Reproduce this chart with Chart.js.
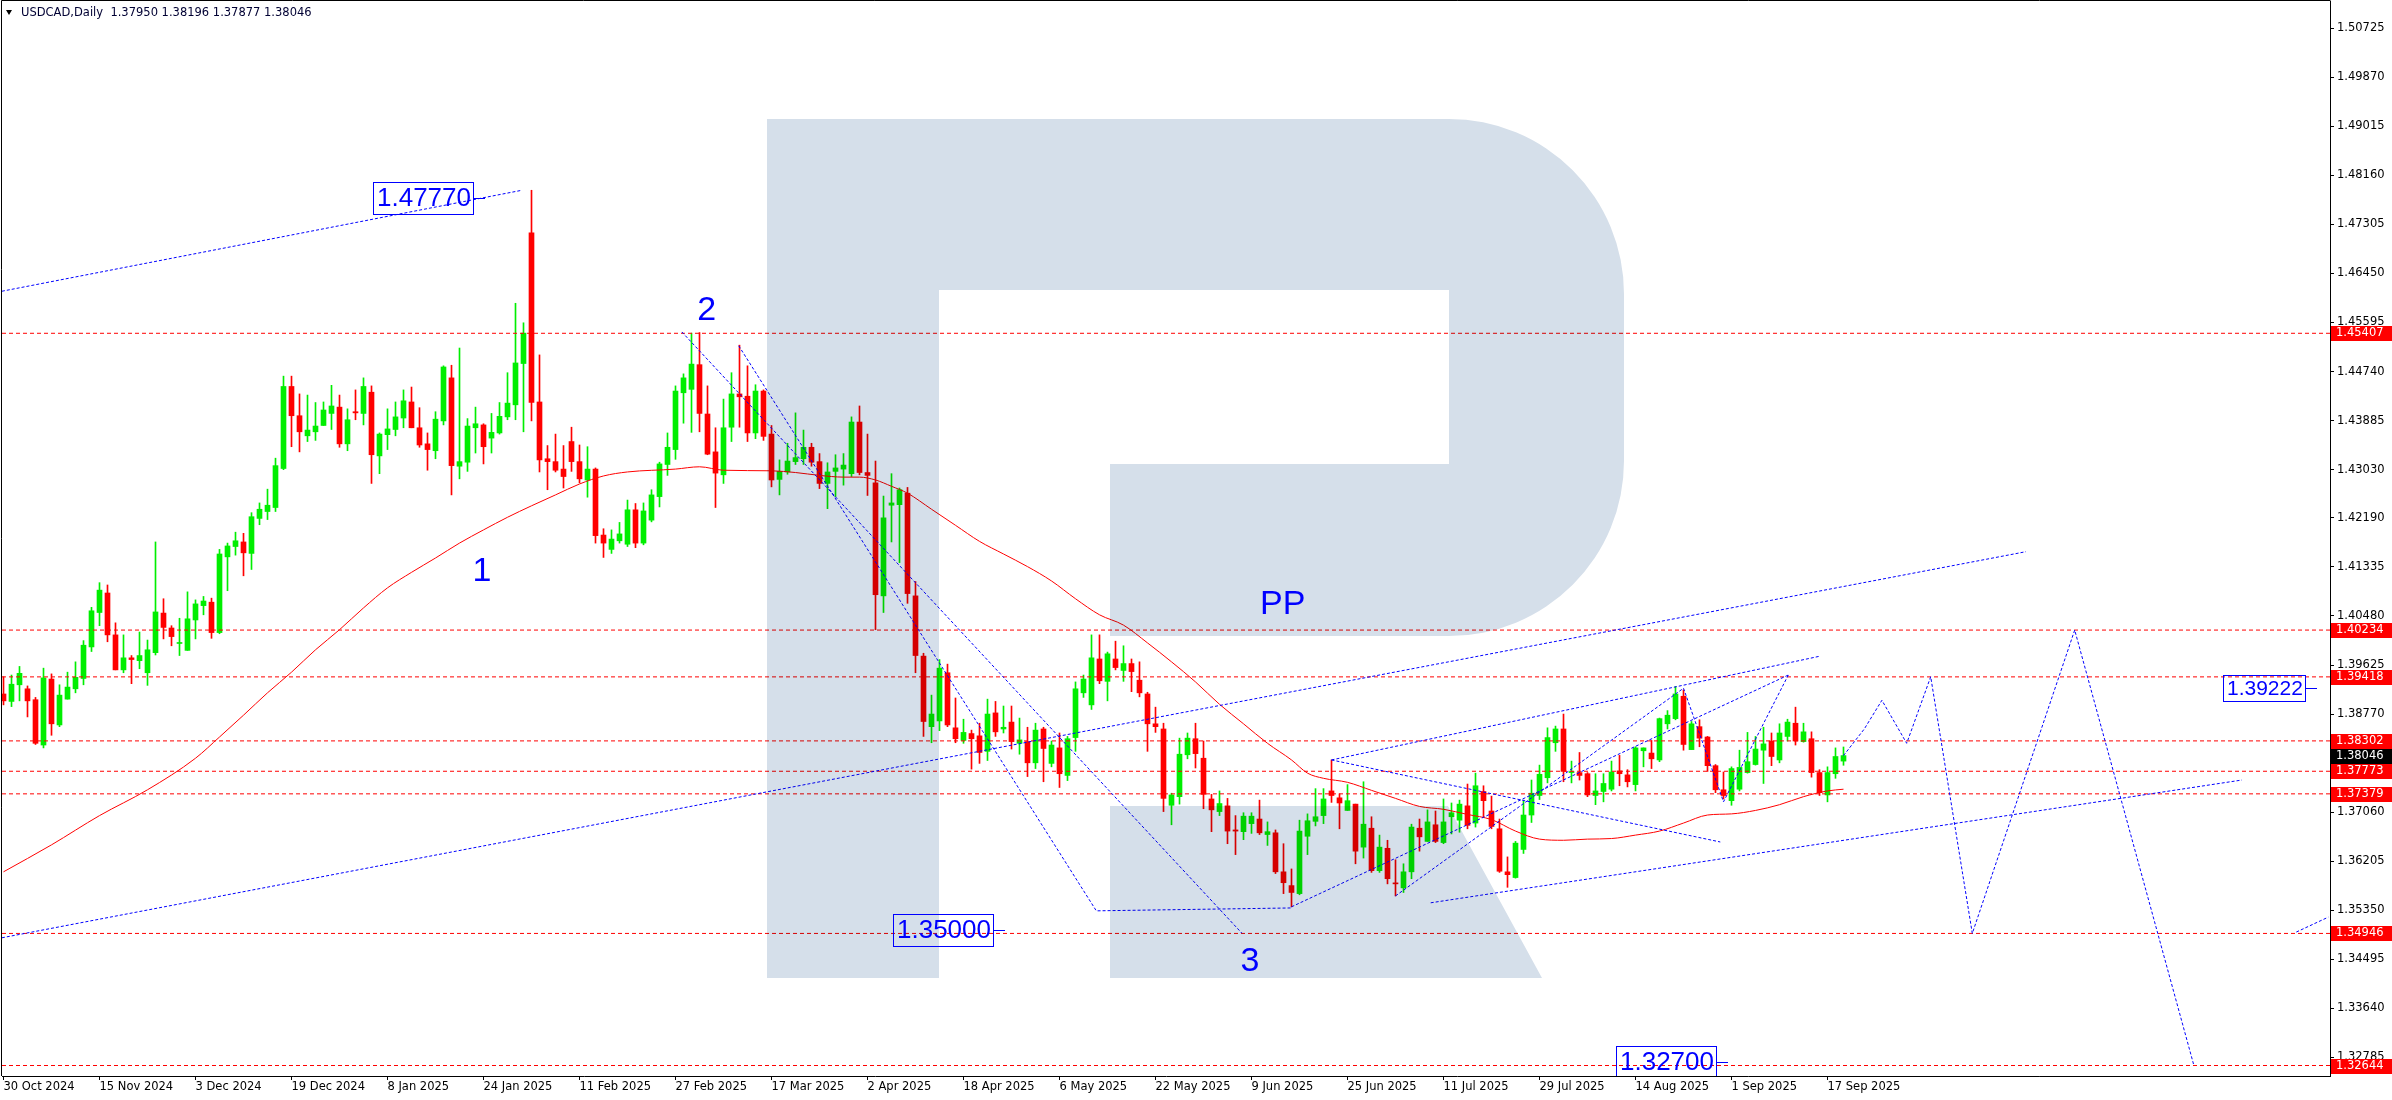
<!DOCTYPE html>
<html>
<head>
<meta charset="utf-8">
<title>USDCAD Daily</title>
<script src="https://cdn.jsdelivr.net/npm/chart.js@4.4.1/dist/chart.umd.min.js"></script>
<style>
    html, body { margin: 0; padding: 0; background: #ffffff; }
    #contenedor { width: 2392px; height: 1100px; position: relative; }
</style>
</head>
<body>
<div id="contenedor"><canvas id="grafico"></canvas></div>
<script>
// ==============================
// DATOS
// ==============================

const fechasEje = ["30 Oct 2024", "15 Nov 2024", "3 Dec 2024", "19 Dec 2024", "8 Jan 2025", "24 Jan 2025",
    "11 Feb 2025", "27 Feb 2025", "17 Mar 2025", "2 Apr 2025", "18 Apr 2025", "6 May 2025", "22 May 2025",
    "9 Jun 2025", "25 Jun 2025", "11 Jul 2025", "29 Jul 2025", "14 Aug 2025", "1 Sep 2025", "17 Sep 2025"];

const apertura = [
    1.3912, 1.3899, 1.3928, 1.3921, 1.3902, 1.3823, 1.3938, 1.3858, 1.3903, 1.3921,
    1.3939, 1.3994, 1.4054, 1.4088, 1.4015, 1.3954, 1.3975, 1.3970, 1.3949, 1.3984,
    1.4053, 1.4027, 1.4000, 1.3988, 1.4041, 1.4066, 1.4072, 1.4019, 1.4151, 1.4169,
    1.4177, 1.4157, 1.4218, 1.4230, 1.4237, 1.4305, 1.4448, 1.4397, 1.4362, 1.4369,
    1.4380, 1.4401, 1.4412, 1.4348, 1.4404, 1.4401, 1.4438, 1.4327, 1.4364, 1.4373,
    1.4393, 1.4421, 1.4376, 1.4348, 1.4336, 1.4388, 1.4463, 1.4309, 1.4316, 1.4376,
    1.4381, 1.4358, 1.4367, 1.4395, 1.4416, 1.4488, 1.4716, 1.4421, 1.4322, 1.4317,
    1.4304, 1.4352, 1.4317, 1.4285, 1.4304, 1.4189, 1.4164, 1.4179, 1.4173, 1.4233,
    1.4175, 1.4215, 1.4256, 1.4312, 1.4338, 1.4437, 1.4443, 1.4486, 1.4400, 1.4334,
    1.4294, 1.4377, 1.4435, 1.4431, 1.4367, 1.4440, 1.4365, 1.4286, 1.4299, 1.4317,
    1.4322, 1.4342, 1.4317, 1.4279, 1.4300, 1.4304, 1.4296, 1.4386, 1.4298, 1.4280,
    1.4083, 1.4241, 1.4242, 1.4262, 1.4083, 1.3978, 1.3855, 1.3865, 1.3949, 1.3853,
    1.3831, 1.3843, 1.3839, 1.3812, 1.3879, 1.3851, 1.3863, 1.3826, 1.3829, 1.3792,
    1.3851, 1.3791, 1.3818, 1.3770, 1.3836, 1.3914, 1.3893, 1.3973, 1.3934, 1.3973,
    1.3953, 1.3965, 1.3936, 1.3912, 1.3860, 1.3851, 1.3718, 1.3733, 1.3806, 1.3834,
    1.3800, 1.3729, 1.3707, 1.3717, 1.3675, 1.3672, 1.3686, 1.3694, 1.3667, 1.3670,
    1.3602, 1.3578, 1.3564, 1.3664, 1.3690, 1.3700, 1.3743, 1.3731, 1.3709, 1.3720,
    1.3645, 1.3678, 1.3604, 1.3643, 1.3582, 1.3574, 1.3602, 1.3678, 1.3655, 1.3684,
    1.3653, 1.3698, 1.3692, 1.3717, 1.3687, 1.3742, 1.3708, 1.3677, 1.3602, 1.3592,
    1.3641, 1.3701, 1.3735, 1.3766, 1.3827, 1.3851, 1.3775, 1.3775, 1.3773, 1.3735,
    1.3742, 1.3746, 1.3778, 1.3771, 1.3754, 1.3813, 1.3809, 1.3797, 1.3860, 1.3869,
    1.3908, 1.3815, 1.3855, 1.3837, 1.3787, 1.3745, 1.3726, 1.3746, 1.3775, 1.3789,
    1.3814, 1.3830, 1.3797, 1.3838, 1.3861, 1.3829, 1.3834, 1.3775, 1.3736, 1.3773,
    1.37950
];

const maximo = [
    1.3942, 1.3945, 1.3960, 1.3926, 1.3906, 1.3957, 1.3947, 1.3928, 1.3950, 1.3968,
    1.4005, 1.4063, 1.4106, 1.4102, 1.4036, 1.4015, 1.3979, 1.4020, 1.4006, 1.4177,
    1.4078, 1.4031, 1.4044, 1.4090, 1.4076, 1.4082, 1.4079, 1.4164, 1.4175, 1.4194,
    1.4192, 1.4228, 1.4245, 1.4269, 1.4323, 1.4466, 1.4466, 1.4435, 1.4433, 1.4420,
    1.4421, 1.4450, 1.4433, 1.4409, 1.4442, 1.4463, 1.4449, 1.4367, 1.4409, 1.4421,
    1.4442, 1.4447, 1.4411, 1.4367, 1.4404, 1.4484, 1.4485, 1.4515, 1.4392, 1.4412,
    1.4383, 1.4401, 1.4420, 1.4472, 1.4593, 1.4559, 1.4790, 1.4503, 1.4345, 1.4365,
    1.4345, 1.4377, 1.4346, 1.4343, 1.4306, 1.4200, 1.4198, 1.4211, 1.4250, 1.4244,
    1.4245, 1.4268, 1.4316, 1.4367, 1.4449, 1.4470, 1.4541, 1.4542, 1.4449, 1.4376,
    1.4426, 1.4472, 1.4520, 1.4484, 1.4451, 1.4442, 1.4380, 1.4320, 1.4349, 1.4402,
    1.4372, 1.4349, 1.4331, 1.4315, 1.4329, 1.4331, 1.4395, 1.4414, 1.4365, 1.4318,
    1.4257, 1.4296, 1.4271, 1.4272, 1.4108, 1.3983, 1.3910, 1.3972, 1.3964, 1.3905,
    1.3868, 1.3849, 1.3861, 1.3903, 1.3899, 1.3891, 1.3891, 1.3870, 1.3854, 1.3861,
    1.3854, 1.3830, 1.3844, 1.3838, 1.3933, 1.3945, 1.4015, 1.4015, 1.3985, 1.4004,
    1.3996, 1.3973, 1.3968, 1.3915, 1.3889, 1.3861, 1.3739, 1.3835, 1.3844, 1.3861,
    1.3830, 1.3737, 1.3743, 1.3730, 1.3700, 1.3705, 1.3705, 1.3727, 1.3689, 1.3675,
    1.3651, 1.3607, 1.3692, 1.3703, 1.3747, 1.3747, 1.3797, 1.3738, 1.3754, 1.3720,
    1.3759, 1.3698, 1.3666, 1.3657, 1.3623, 1.3616, 1.3685, 1.3694, 1.3710, 1.3708,
    1.3729, 1.3722, 1.3727, 1.3755, 1.3774, 1.3752, 1.3734, 1.3694, 1.3628, 1.3655,
    1.3727, 1.3762, 1.3788, 1.3853, 1.3856, 1.3877, 1.3795, 1.3810, 1.3775, 1.3773,
    1.3773, 1.3795, 1.3805, 1.3780, 1.3820, 1.3818, 1.3831, 1.3870, 1.3883, 1.3925,
    1.3919, 1.3864, 1.3867, 1.3838, 1.3789, 1.3776, 1.3785, 1.3814, 1.3845, 1.3838,
    1.3854, 1.3844, 1.3860, 1.3868, 1.3889, 1.3861, 1.3846, 1.3780, 1.3785, 1.3818,
    1.38196
];

const minimo = [
    1.3893, 1.3890, 1.3900, 1.3872, 1.3824, 1.3818, 1.3840, 1.3855, 1.3903, 1.3914,
    1.3928, 1.3986, 1.4031, 1.4003, 1.3954, 1.3949, 1.3930, 1.3956, 1.3927, 1.3980,
    1.4008, 1.3996, 1.3979, 1.3988, 1.4008, 1.4050, 1.4009, 1.4017, 1.4092, 1.4154,
    1.4118, 1.4129, 1.4207, 1.4216, 1.4230, 1.4303, 1.4343, 1.4334, 1.4352, 1.4354,
    1.4380, 1.4373, 1.4342, 1.4336, 1.4390, 1.4381, 1.4279, 1.4296, 1.4338, 1.4362,
    1.4376, 1.4376, 1.4342, 1.4302, 1.4322, 1.4381, 1.4259, 1.4287, 1.4300, 1.4332,
    1.4313, 1.4332, 1.4365, 1.4390, 1.4390, 1.4369, 1.4388, 1.4299, 1.4268, 1.4299,
    1.4271, 1.4300, 1.4280, 1.4255, 1.4175, 1.4150, 1.4157, 1.4175, 1.4169, 1.4167,
    1.4172, 1.4212, 1.4238, 1.4293, 1.4321, 1.4384, 1.4368, 1.4369, 1.4329, 1.4237,
    1.4279, 1.4352, 1.4377, 1.4352, 1.4357, 1.4354, 1.4273, 1.4259, 1.4295, 1.4312,
    1.4312, 1.4309, 1.4270, 1.4235, 1.4256, 1.4276, 1.4291, 1.4294, 1.4258, 1.4024,
    1.4054, 1.4177, 1.4141, 1.4070, 1.3949, 1.3838, 1.3827, 1.3848, 1.3855, 1.3827,
    1.3826, 1.3781, 1.3791, 1.3796, 1.3838, 1.3844, 1.3816, 1.3807, 1.3768, 1.3782,
    1.3759, 1.3785, 1.3749, 1.3761, 1.3812, 1.3906, 1.3885, 1.3930, 1.3900, 1.3954,
    1.3934, 1.3916, 1.3907, 1.3812, 1.3845, 1.3707, 1.3684, 1.3720, 1.3799, 1.3783,
    1.3712, 1.3672, 1.3700, 1.3651, 1.3632, 1.3658, 1.3669, 1.3667, 1.3648, 1.3599,
    1.3564, 1.3541, 1.3562, 1.3632, 1.3682, 1.3686, 1.3723, 1.3677, 1.3709, 1.3616,
    1.3626, 1.3601, 1.3601, 1.3581, 1.3560, 1.3566, 1.3590, 1.3638, 1.3655, 1.3653,
    1.3651, 1.3668, 1.3671, 1.3677, 1.3680, 1.3697, 1.3677, 1.3601, 1.3575, 1.3591,
    1.3634, 1.3688, 1.3728, 1.3757, 1.3812, 1.3759, 1.3757, 1.3762, 1.3733, 1.3719,
    1.3724, 1.3743, 1.3752, 1.3750, 1.3743, 1.3785, 1.3782, 1.3794, 1.3851, 1.3867,
    1.3814, 1.3815, 1.3820, 1.3777, 1.3740, 1.3729, 1.3718, 1.3743, 1.3774, 1.3788,
    1.3756, 1.3787, 1.3792, 1.3830, 1.3823, 1.3828, 1.3767, 1.3735, 1.3724, 1.3765,
    1.37877
];

const cierre = [
    1.3900, 1.3929, 1.3948, 1.3900, 1.3826, 1.3940, 1.3860, 1.3910, 1.3924, 1.3941,
    1.3997, 1.4057, 1.4093, 1.4015, 1.3954, 1.3975, 1.3972, 1.3979, 1.3989, 1.4055,
    1.4028, 1.4012, 1.4001, 1.4043, 1.4069, 1.4074, 1.4019, 1.4156, 1.4170, 1.4179,
    1.4158, 1.4221, 1.4234, 1.4241, 1.4310, 1.4448, 1.4397, 1.4369, 1.4372, 1.4379,
    1.4407, 1.4414, 1.4348, 1.4390, 1.4402, 1.4448, 1.4329, 1.4365, 1.4374, 1.4395,
    1.4423, 1.4376, 1.4346, 1.4338, 1.4391, 1.4482, 1.4310, 1.4317, 1.4379, 1.4383,
    1.4343, 1.4368, 1.4396, 1.4419, 1.4489, 1.4541, 1.4420, 1.4320, 1.4317, 1.4302,
    1.4291, 1.4317, 1.4287, 1.4304, 1.4188, 1.4175, 1.4182, 1.4191, 1.4233, 1.4175,
    1.4231, 1.4259, 1.4313, 1.4342, 1.4440, 1.4463, 1.4487, 1.4401, 1.4330, 1.4297,
    1.4376, 1.4435, 1.4430, 1.4367, 1.4440, 1.4361, 1.4285, 1.4300, 1.4318, 1.4324,
    1.4342, 1.4316, 1.4279, 1.4299, 1.4306, 1.4311, 1.4386, 1.4298, 1.4293, 1.4085,
    1.4219, 1.4245, 1.4268, 1.4087, 1.3979, 1.3864, 1.3877, 1.3957, 1.3858, 1.3834,
    1.3845, 1.3834, 1.3810, 1.3877, 1.3846, 1.3854, 1.3829, 1.3832, 1.3792, 1.3849,
    1.3817, 1.3823, 1.3773, 1.3834, 1.3921, 1.3938, 1.3975, 1.3935, 1.3982, 1.3958,
    1.3965, 1.3951, 1.3914, 1.3860, 1.3855, 1.3730, 1.3736, 1.3807, 1.3835, 1.3808,
    1.3737, 1.3710, 1.3721, 1.3673, 1.3673, 1.3699, 1.3699, 1.3670, 1.3672, 1.3602,
    1.3583, 1.3566, 1.3673, 1.3691, 1.3698, 1.3729, 1.3735, 1.3722, 1.3726, 1.3638,
    1.3685, 1.3604, 1.3645, 1.3590, 1.3581, 1.3602, 1.3680, 1.3663, 1.3689, 1.3655,
    1.3689, 1.3705, 1.3720, 1.3683, 1.3752, 1.3726, 1.3681, 1.3603, 1.3597, 1.3652,
    1.3701, 1.3739, 1.3772, 1.3836, 1.3851, 1.3777, 1.3776, 1.3770, 1.3736, 1.3743,
    1.3756, 1.3776, 1.3773, 1.3759, 1.3818, 1.3818, 1.3799, 1.3869, 1.3875, 1.3912,
    1.3824, 1.3860, 1.3835, 1.3787, 1.3745, 1.3735, 1.3782, 1.3784, 1.3794, 1.3816,
    1.3825, 1.3803, 1.3844, 1.3863, 1.3830, 1.3846, 1.3775, 1.3740, 1.3775, 1.3803,
    1.38046
];

// Media móvil: barra y valor leídos cada pocas velas
const mediaBarras = [0, 6, 12, 18, 24, 27, 30, 33, 36, 39, 42, 45, 48, 51, 54, 57, 60, 63, 66, 69,
    72, 75, 78, 84, 87, 90, 96, 99, 102, 105, 107, 109, 111, 113, 116, 119, 122, 125, 128, 131,
    134, 137, 140, 143, 146, 149, 152, 155, 158, 161, 163, 165, 168, 171, 174, 177, 180, 183, 186, 189,
    192, 195, 198, 201, 204, 207, 210, 213, 216, 219, 222, 225, 228, 230];
const mediaValores = [1.3602, 1.3649, 1.3700, 1.3745, 1.3800, 1.3837, 1.3875, 1.3914, 1.3950, 1.3989,
    1.4024, 1.4062, 1.4097, 1.4124, 1.4149, 1.4175, 1.4198, 1.4220, 1.4240, 1.4259,
    1.4278, 1.4292, 1.4299, 1.4304, 1.4308, 1.4302, 1.4301, 1.4298, 1.4293, 1.4290,
    1.4290, 1.4285, 1.4274, 1.4262, 1.4234, 1.4206, 1.4178, 1.4156, 1.4134, 1.4109,
    1.4078, 1.4050, 1.4032, 1.4001, 1.3968, 1.3933, 1.3894, 1.3860, 1.3826, 1.3797,
    1.3774, 1.3765, 1.3758, 1.3744, 1.3730, 1.3716, 1.3711, 1.3702, 1.3693, 1.3673,
    1.3659, 1.3657, 1.3659, 1.3660, 1.3666, 1.3673, 1.3687, 1.3701, 1.3703, 1.3709,
    1.3719, 1.3733, 1.3743, 1.3746];

const nivelesPrecio = [1.45407, 1.40234, 1.39418, 1.38302, 1.37773, 1.37379, 1.34946, 1.32644];
const precioActual = 1.38046;

const marcasEjeY = [1.50725, 1.49870, 1.49015, 1.48160, 1.47305, 1.46450, 1.45595, 1.44740, 1.43885,
    1.43030, 1.42190, 1.41335, 1.40480, 1.39625, 1.38770, 1.37915, 1.37060, 1.36205, 1.35350,
    1.34495, 1.33640, 1.32785];

// Líneas dibujadas: [barra, precio]
const lineaSuperior = [[-0.2, 1.4614], [64.8, 1.4790]];
const lineaInferior = [[-0.2, 1.3487], [252.8, 1.4160]];
const lineaOnda2a3 = [[84.8, 1.4543], [154.8, 1.3495]];
const lineaCaida = [[91.9, 1.4519], [136.6, 1.3534], [160.9, 1.3539]];
const canalSuperior = [[166, 1.3797], [227.1, 1.3978]];
const canalMedio = [[166, 1.3797], [214.6, 1.3654]];
const canalInferior = [[178.4, 1.3548], [279.8, 1.3762]];
const ondaJunio = [[161, 1.3541], [223.1, 1.3945]];
const ondaJulio = [[174, 1.3560], [210, 1.3922]];
const ondaAgosto = [[210, 1.3922], [215, 1.3724], [223.1, 1.3945]];
const pronostico = [[230, 1.38046], [232.6, 1.3851], [234.8, 1.3901], [237.9, 1.3826], [240.9, 1.3942],
    [246.1, 1.34946], [258.9, 1.40234], [273.8, 1.32644]];
const tramoDerecho = [[286.6, 1.3497], [290.6, 1.3523]];

const etiquetasTexto = ["1", "2", "3", "PP"];
const etiquetasBarra = [59.8, 87.9, 155.8, 159.9];
const etiquetasPrecio = [1.4125, 1.4581, 1.3445, 1.4067];

const cajasTexto = ["1.47770", "1.35000", "1.32700", "1.39222"];
const cajasBarra = [58.7, 123.7, 214.1, 287.7];
const cajasPrecio = [1.4777, 1.35, 1.327, 1.39222];

// ==============================
// ESTILO
// ==============================

const VERDE = "#00ee00";
const ROJO = "#ff0000";
const AZUL = "#0000ff";
const FUENTE_EJE = "DejaVu Sans";

const X_MIN = -0.1875;
const X_MAX = 290.8125;
const Y_MAX = 1.51199;
const Y_MIN = 1.32461;

const indices = apertura.map((_, i) => i);
const colores = indices.map(i => cierre[i] >= apertura[i] ? VERDE : ROJO);

function linea(puntos, color, trazo, orden) {
    return {
        type: "line",
        data: puntos.map(p => ({ x: p[0], y: p[1] })),
        borderColor: color,
        borderWidth: 1,
        borderDash: trazo,
        pointRadius: 0,
        fill: false,
        tension: 0,
        order: orden
    };
}

const datasets = [
    {
        type: "bar",
        label: "mechas",
        data: indices.map(i => ({ x: i, y: [minimo[i], maximo[i]] })),
        backgroundColor: colores,
        barThickness: 1,
        grouped: false,
        order: 10
    },
    {
        type: "bar",
        label: "cuerpos",
        data: indices.map(i => ({ x: i, y: [apertura[i], cierre[i]] })),
        backgroundColor: colores,
        barThickness: 5,
        minBarLength: 1,
        grouped: false,
        order: 9
    },
    {
        type: "line",
        label: "media",
        data: mediaBarras.map((b, j) => ({ x: b, y: mediaValores[j] })),
        borderColor: ROJO,
        borderWidth: 1,
        pointRadius: 0,
        cubicInterpolationMode: "monotone",
        order: 5
    }
];

nivelesPrecio.forEach(p => datasets.push(linea([[X_MIN, p], [X_MAX, p]], ROJO, [4, 3], 4)));

[lineaSuperior, lineaInferior, lineaOnda2a3, lineaCaida, canalSuperior, canalMedio, canalInferior,
    ondaJunio, ondaJulio, ondaAgosto, pronostico, tramoDerecho]
    .forEach(l => datasets.push(linea(l, AZUL, [3, 2], 2)));

// Logo, textos y cajas de precio
const pluginDibujo = {

    id: "dibujo",

    afterDatasetsDraw(chart) {

        const ctx = chart.ctx;
        const area = chart.chartArea;
        const sx = chart.scales.x;
        const sy = chart.scales.y;

        ctx.save();
        ctx.beginPath();
        ctx.rect(area.left, area.top, area.right - area.left, area.bottom - area.top);
        ctx.clip();

        // Marca de agua "R"
        ctx.globalCompositeOperation = "multiply";
        ctx.fillStyle = "#d5dfea";
        ctx.beginPath();
        ctx.moveTo(767, 119);
        ctx.lineTo(1449, 119);
        ctx.arc(1449, 294, 175, -Math.PI / 2, 0);
        ctx.lineTo(1624, 461);
        ctx.arc(1449, 461, 175, 0, Math.PI / 2);
        ctx.lineTo(1110, 636);
        ctx.lineTo(1110, 464);
        ctx.lineTo(1449, 464);
        ctx.lineTo(1449, 290);
        ctx.lineTo(939, 290);
        ctx.lineTo(939, 978);
        ctx.lineTo(767, 978);
        ctx.closePath();
        ctx.moveTo(1110, 806);
        ctx.lineTo(1448, 806);
        ctx.lineTo(1542, 978);
        ctx.lineTo(1110, 978);
        ctx.closePath();
        ctx.fill();
        ctx.globalCompositeOperation = "source-over";

        // Etiquetas de ondas
        ctx.fillStyle = AZUL;
        ctx.font = "34px 'Liberation Sans'";
        ctx.textAlign = "center";
        ctx.textBaseline = "middle";
        etiquetasTexto.forEach((t, i) => {
            ctx.fillText(t, sx.getPixelForValue(etiquetasBarra[i]), sy.getPixelForValue(etiquetasPrecio[i]));
        });

        // Cajas con precio
        ctx.textAlign = "left";
        ctx.strokeStyle = AZUL;
        ctx.lineWidth = 1;
        cajasTexto.forEach((t, i) => {
            const tam = i === 3 ? 21 : 26;
            ctx.font = tam + "px 'Liberation Sans'";
            const ancho = ctx.measureText(t).width + 6;
            const alto = Math.round(tam * 1.23);
            const xd = Math.round(sx.getPixelForValue(cajasBarra[i]));
            const yc = Math.round(sy.getPixelForValue(cajasPrecio[i]));
            const xi = Math.round(xd - ancho);
            ctx.strokeRect(xi + 0.5, yc - alto / 2 + 0.5, xd - xi, alto);
            ctx.fillText(t, xi + 4, yc + 1);
            ctx.beginPath();
            ctx.moveTo(xd, yc + 0.5);
            ctx.lineTo(xd + 12, yc + 0.5);
            ctx.stroke();
        });

        ctx.restore();
    },

    afterDraw(chart) {

        const ctx = chart.ctx;
        const area = chart.chartArea;
        const sy = chart.scales.y;

        ctx.save();

        // Marco superior e izquierdo
        ctx.strokeStyle = "#000";
        ctx.lineWidth = 1;
        ctx.beginPath();
        ctx.moveTo(1.5, area.bottom);
        ctx.lineTo(1.5, 0.5);
        ctx.lineTo(area.right + 0.5, 0.5);
        ctx.stroke();

        // Etiquetas de niveles en el eje
        ctx.font = "11.5px '" + FUENTE_EJE + "'";
        ctx.textAlign = "left";
        ctx.textBaseline = "middle";

        const etiqueta = (precio, fondo) => {
            const y = Math.round(sy.getPixelForValue(precio));
            ctx.fillStyle = fondo;
            ctx.fillRect(area.right + 1, y - 7, 62, 15);
            ctx.fillStyle = "#ffffff";
            ctx.fillText(precio.toFixed(5), area.right + 6, y + 0.5);
        };

        nivelesPrecio.forEach(p => etiqueta(p, ROJO));
        etiqueta(precioActual, "#000000");

        // Cabecera
        ctx.fillStyle = "#000";
        ctx.beginPath();
        ctx.moveTo(6, 10);
        ctx.lineTo(12, 10);
        ctx.lineTo(9, 15);
        ctx.closePath();
        ctx.fill();

        ctx.fillStyle = "#000033";
        ctx.fillText("USDCAD,Daily  " + [apertura, maximo, minimo, cierre]
            .map(a => a[a.length - 1].toFixed(5)).join(" "), 21, 13);

        ctx.restore();
    }
};

new Chart(

    document.getElementById("grafico"),

    {
        type: "line",

        data: { datasets: datasets },

        options: {
            responsive: true,
            maintainAspectRatio: false,
            devicePixelRatio: 1,
            animation: false,
            layout: { padding: { left: 2, top: 1, right: 0, bottom: 0 }, autoPadding: false },
            plugins: {
                legend: { display: false },
                tooltip: { enabled: false }
            },
            scales: {
                x: {
                    type: "linear",
                    min: X_MIN,
                    max: X_MAX,
                    offset: false,
                    bounds: "data",
                    afterFit: s => { s.height = 24; s.paddingLeft = 0; s.paddingRight = 0; },
                    afterBuildTicks: s => { s.ticks = fechasEje.map((_, i) => ({ value: i * 12 })); },
                    ticks: {
                        autoSkip: false,
                        maxRotation: 0,
                        align: "start",
                        padding: 0,
                        color: "#000",
                        font: { family: FUENTE_EJE, size: 11.5 },
                        callback: v => fechasEje[Math.round(v / 12)]
                    },
                    grid: { drawOnChartArea: false, offset: false, tickLength: 4, color: "#000" },
                    border: { display: true, color: "#000" }
                },
                y: {
                    type: "linear",
                    position: "right",
                    min: Y_MIN,
                    max: Y_MAX,
                    bounds: "data",
                    afterFit: s => { s.width = 62; s.paddingTop = 0; s.paddingBottom = 0; },
                    afterBuildTicks: s => { s.ticks = marcasEjeY.map(v => ({ value: v })); },
                    ticks: {
                        autoSkip: false,
                        padding: 3,
                        color: "#000",
                        font: { family: FUENTE_EJE, size: 11.5 },
                        callback: v => v.toFixed(5)
                    },
                    grid: { drawOnChartArea: false, tickLength: 4, color: "#000" },
                    border: { display: true, color: "#000" }
                }
            }
        },

        plugins: [pluginDibujo]
    }
);
</script>
</body>
</html>
